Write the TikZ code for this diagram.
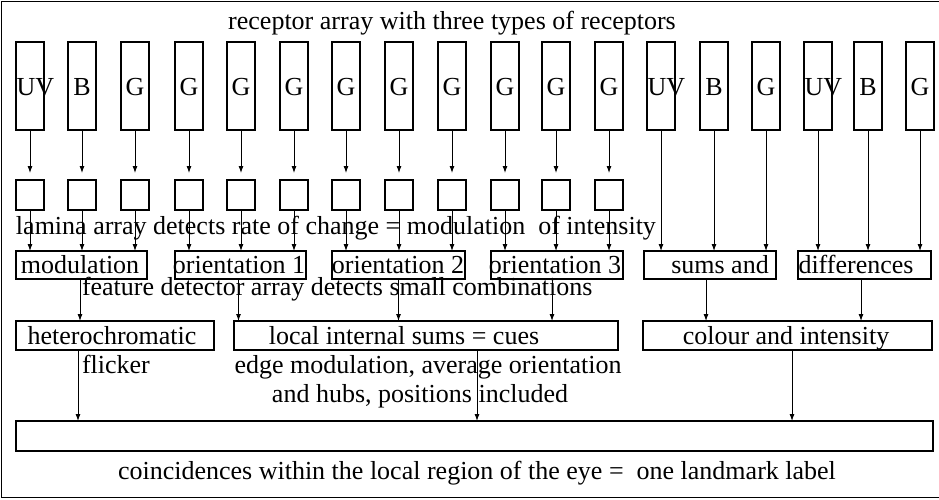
\documentclass[tikz,border=0pt]{standalone}
\usepackage{fontspec}
\setmainfont{Liberation Serif}
\usetikzlibrary{arrows.meta}
\begin{document}
\begin{tikzpicture}[x=1pt,y=-1pt,
  every node/.style={font=\fontsize{26}{30}\selectfont, inner sep=0pt, outer sep=0pt},
  box/.style={draw, line width=1.1pt, anchor=north west},
  txt/.style={anchor=base},
  txtw/.style={anchor=base west},
  arr/.style={line width=0.9pt, -{Latex[length=7pt,width=5pt]}}]
\useasboundingbox (0,0) rectangle (939,499);
\draw[line width=1.4pt] (939,1.5) -- (1.5,1.5) -- (1.5,497.5) -- (939,497.5);

\node[txt] (title) at (452,29) {receptor array with three types of receptors};

% receptors
\foreach \x/\t/\dx/\a [count=\i] in {16/UV/0.5/base west,68/B/14/base,121/G/14/base,175/G/14/base,227/G/14/base,280/G/14/base,332/G/14/base,385/G/14/base,438/G/14/base,491/G/14/base,542/G/14/base,595/G/14/base,647/UV/0.5/base west,700/B/14/base,752/G/14/base,804/UV/0.5/base west,854/B/14/base,906/G/14/base}{
  \node[box, minimum width=28pt, minimum height=88pt] (r\i) at (\x,42) {};
  \node[anchor=\a] (rl\i) at (\x+\dx,95) {\t};
}

% lamina boxes
\foreach \x [count=\i] in {16,68,121,175,227,280,332,385,438,491,542,595}{
  \node[box, minimum width=28pt, minimum height=30pt] (l\i) at (\x,180) {};
  \draw[arr, shorten >=7pt] (r\i) -- (l\i);
}

\node[txtw] (lamtxt) at (16,234) {lamina array detects rate of change = modulation\ \ of intensity};

% row 2
\node[box, minimum width=131pt, minimum height=28pt] (mod) at (16,251) {};
\node[box, minimum width=131pt, minimum height=28pt] (o1) at (175,251) {};
\node[box, minimum width=133pt, minimum height=28pt] (o2) at (332,251) {};
\node[box, minimum width=132pt, minimum height=28pt] (o3) at (491,251) {};
\node[box, minimum width=132pt, minimum height=28pt] (sums) at (644,251) {};
\node[box, minimum width=133pt, minimum height=28pt] (diff) at (798,251) {};

\node[txt] (modt) at (80,273) {modulation};
\node[txt] (o1t) at (239,273) {orientation 1};
\node[txt] (o2t) at (398,273) {orientation 2};
\node[txt] (o3t) at (555,273) {orientation 3};
\node[txt] (sumst) at (720,273) {sums and};
\node[txt] (difft) at (856,273) {differences};

\foreach \i/\t in {1/mod,2/mod,3/mod,4/o1,5/o1,6/o1,7/o2,8/o2,9/o2,10/o3,11/o3,12/o3}{
  \draw[arr] (l\i.south) -- (l\i.south |- \t.north);
}
\foreach \i/\t in {13/sums,14/sums,15/sums,16/diff,17/diff,18/diff}{
  \draw[arr] (r\i.south) -- (r\i.south |- \t.north);
}

\node[txtw] (feat) at (82,295) {feature detector array detects small combinations};

% row 3
\node[box, minimum width=198pt, minimum height=29pt] (het) at (16,321) {};
\node[box, minimum width=384pt, minimum height=29pt] (loc) at (234,321) {};
\node[box, minimum width=289pt, minimum height=29pt] (col) at (643,321) {};

\node[txt] (hett) at (112,344) {heterochromatic};
\node[txt] (loct) at (404,344) {local internal sums = cues};
\node[txt] (colt) at (786,344) {colour and intensity};

\draw[arr] ([xshift=-1.5pt]mod.south) -- ([xshift=-1.5pt]mod.south |- het.north);
\draw[arr] ([xshift=-2pt]o1.south) -- ([xshift=-2pt]o1.south |- loc.north);
\draw[arr] (o2.south) -- (o2.south |- loc.north);
\draw[arr] ([xshift=-5pt]o3.south) -- ([xshift=-5pt]o3.south |- loc.north);
\draw[arr] ([xshift=-4pt]sums.south) -- ([xshift=-4pt]sums.south |- col.north);
\draw[arr] ([xshift=-3.5pt]diff.south) -- ([xshift=-3.5pt]diff.south |- col.north);

\node[txtw] (flick) at (82,373) {flicker};
\node[txt] (edge) at (428,373) {edge modulation, average orientation};
\node[txt] (hubs) at (420,402) {and hubs, positions included};

% bottom
\node[box, minimum width=917pt, minimum height=30pt] (bot) at (16,421) {};
\draw[arr] ([xshift=62pt]het.south west) -- ([xshift=62pt]het.south west |- bot.north);
\draw[arr] ([xshift=243pt]loc.south west) -- ([xshift=243pt]loc.south west |- bot.north);
\draw[arr] ([xshift=4.5pt]col.south) -- ([xshift=4.5pt]col.south |- bot.north);

\node[txtw] (coinc) at (118,479) {coincidences within the local region of the eye =\ \ one landmark label};
\end{tikzpicture}
\end{document}
